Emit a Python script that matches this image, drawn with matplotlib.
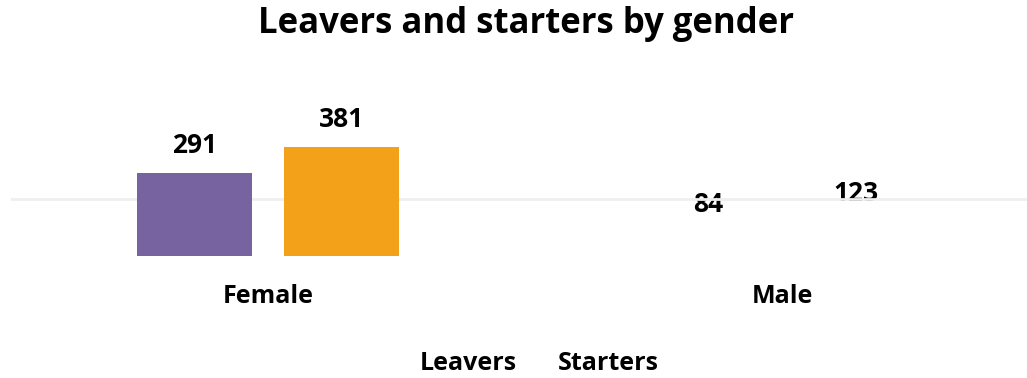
import matplotlib
matplotlib.use("Agg")
import matplotlib.pyplot as plt
import numpy as np

categories = ["Female", "Male"]
series_names = ["Leavers", "Starters"]
leavers = [291, 84]
starters = [381, 123]
colors = ["#77639f", "#f4a11a"]
gridline_value = 200

plt.rcParams['font.family'] = ['Open Sans', 'DejaVu Sans']

W, H = 1027, 378
fig = plt.figure(figsize=(W / 100, H / 100), dpi=100)
ax = fig.add_axes([11 / W, (H - 256) / H, 1028 / W, (256 - 60) / H])

x = np.arange(len(categories))
bw = 0.2237
off = 0.143
b1 = ax.bar(x - off, leavers, bw, color=colors[0], zorder=3, label=series_names[0])
b2 = ax.bar(x + off, starters, bw, color=colors[1], zorder=3, label=series_names[1])
# male bars are not rendered in the reference
for bars in (b1, b2):
    bars[1].set_visible(False)

for bars in (b1, b2):
    for rect in bars:
        ax.annotate(f"{int(rect.get_height())}",
                    (rect.get_x() + rect.get_width() / 2, rect.get_height()),
                    xytext=(0, 20), textcoords="offset points",
                    ha="center", va="center", fontsize=19, fontweight="bold",
                    zorder=1)

ax.axhline(gridline_value, color="#efefef", lw=2, zorder=2)
ax.set_xlim(-0.5, 1.5)
ax.set_ylim(0, 688)
ax.set_xticks(x)
ax.set_xticklabels(categories, fontsize=18, fontweight="bold")
ax.tick_params(axis="x", length=0, pad=20)
ax.set_yticks([])
for s in ax.spines.values():
    s.set_visible(False)

fig.text(526 / W, 1 - 24 / H, "Leavers and starters by gender",
         ha="center", va="center", fontsize=25, fontweight="bold")

leg = fig.legend(handles=[b1, b2], labels=series_names, loc="center",
                 bbox_to_anchor=(539.5 / W, 1 - 364 / H), ncol=2, frameon=False,
                 handlelength=0, handletextpad=0, columnspacing=1.64,
                 prop={"size": 18, "weight": "bold"})
for h in leg.legend_handles:
    h.set_visible(False)

fig.savefig("out.png", dpi=100)
